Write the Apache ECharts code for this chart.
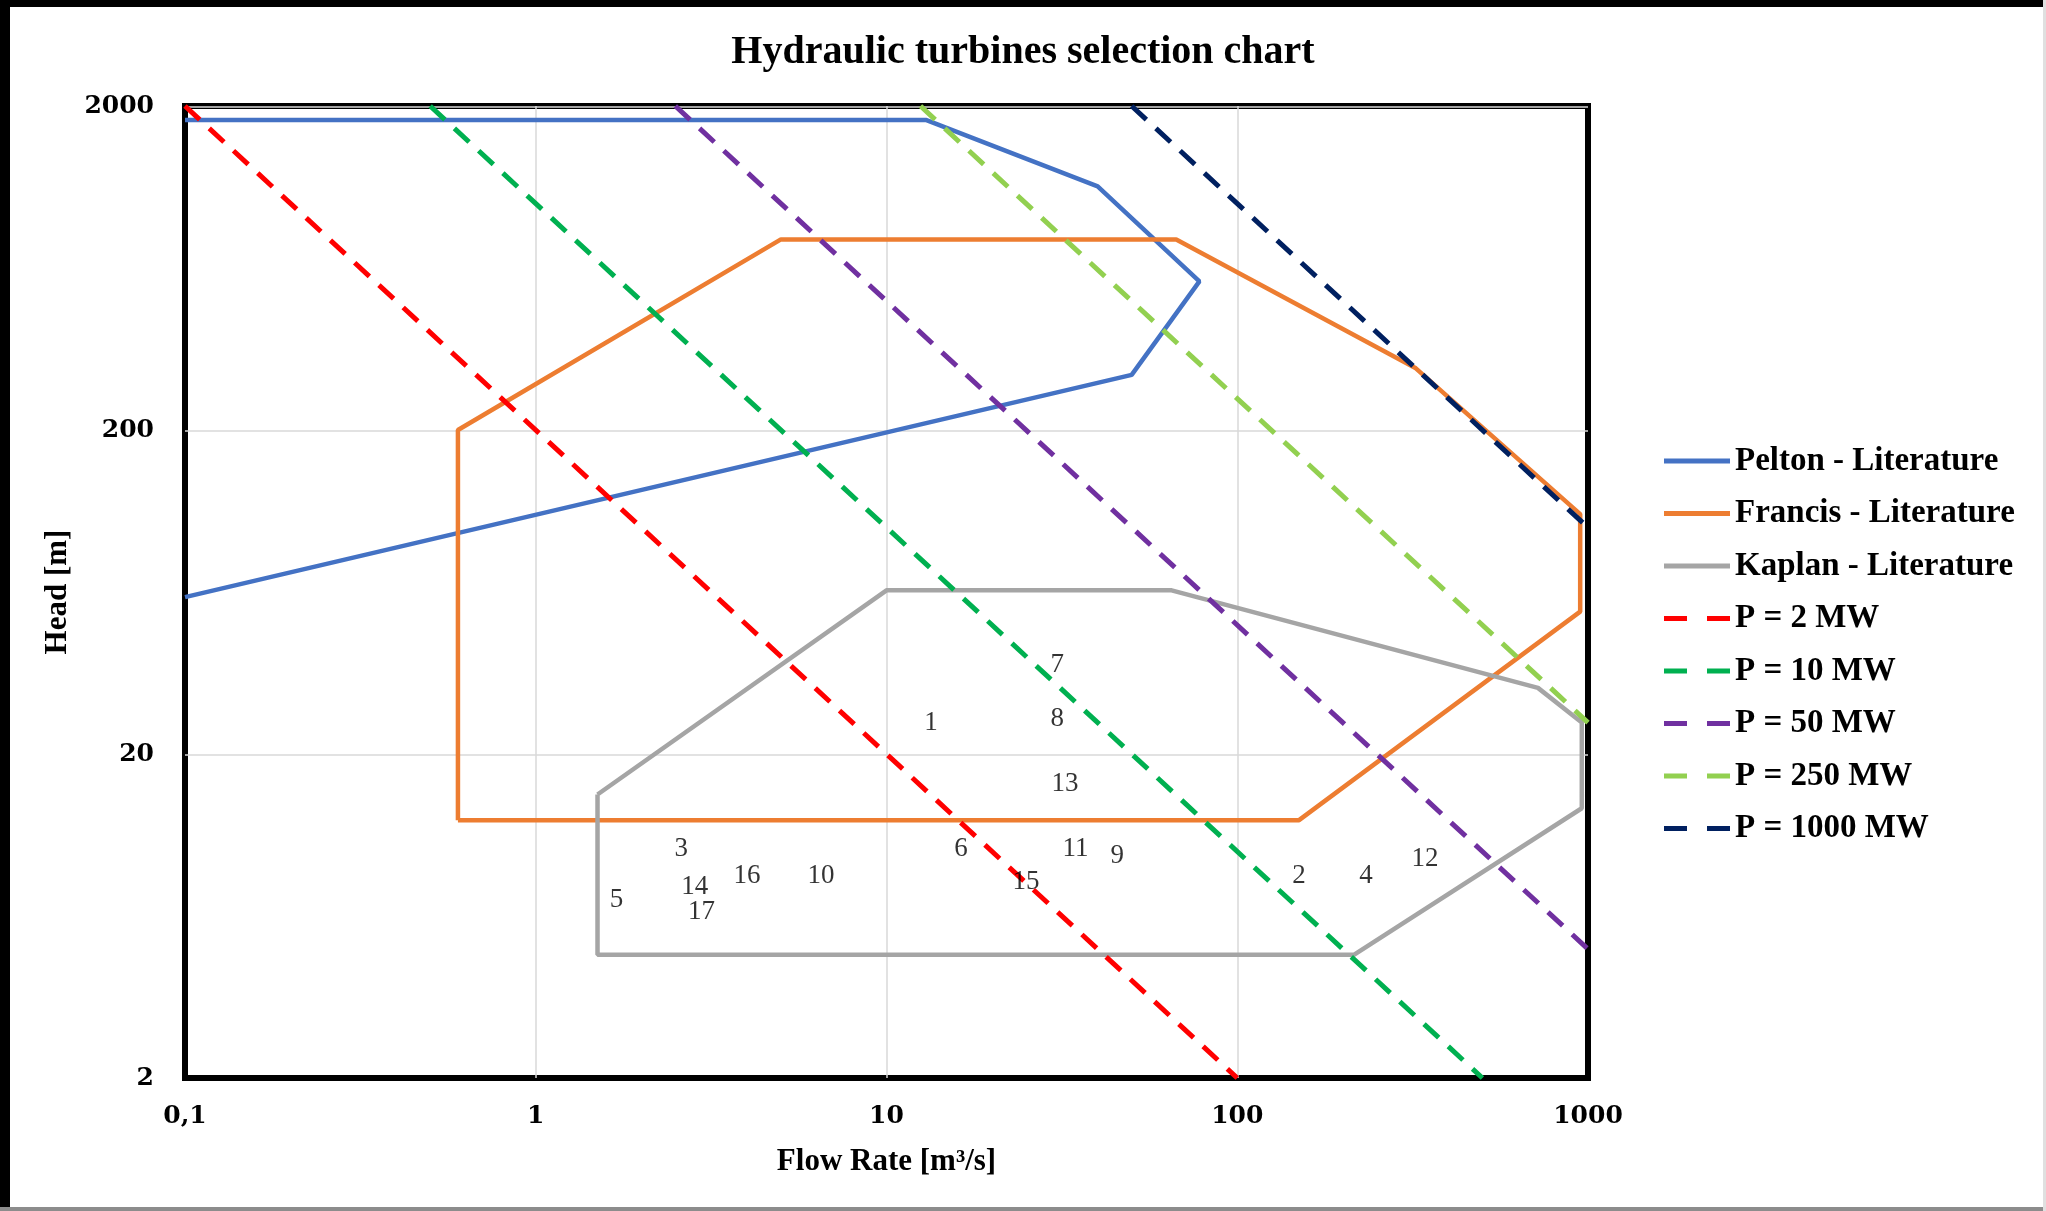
<!DOCTYPE html>
<html>
<head>
<meta charset="utf-8">
<title>Hydraulic turbines selection chart</title>
<script src="https://cdn.jsdelivr.net/npm/echarts@6/dist/echarts.min.js"></script>
<style>
  html, body { margin: 0; padding: 0; background: #fff; }
  #main { width: 2046px; height: 1211px; }
</style>
</head>
<body>
<div id="main"></div>
<script>
// 各水轮机应用范围（流量 Q [m3/s]，水头 H [m]）
var peltonQ = [0.1, 50, 78, 40, 13, 0.1];
var peltonH = [61, 296, 575, 1130, 1810, 1810];

var francisQ = [0.6, 0.6, 5, 67, 323, 950, 950, 150, 0.6];
var francisH = [12.5, 200, 775, 775, 310, 110, 55, 12.5, 12.5];

var kaplanQ = [1.5, 10, 65, 720, 960, 960, 215, 1.5, 1.5];
var kaplanH = [15, 64, 64, 32, 25, 13.6, 4.8, 4.8, 15];

// 等功率线端点
var powerNames = ["P = 2 MW", "P = 10 MW", "P = 50 MW", "P = 250 MW", "P = 1000 MW"];
var powerQ = [[0.1, 100], [0.5, 500], [2.5, 1000], [12.5, 1000], [50, 1000]];
var powerH = [[2000, 2], [2000, 2], [2000, 5], [2000, 25], [2000, 100]];
var powerColors = ["#ff0000", "#00b050", "#7030a0", "#92d050", "#002060"];

// 电站编号位置
var siteIds = ["1", "2", "3", "4", "5", "6", "7", "8", "9", "10", "11", "12", "13", "14", "15", "16", "17"];
var siteQ = [13.4, 150, 2.6, 233, 1.7, 16.3, 30.7, 30.7, 45.5, 6.5, 34.6, 343, 32.3, 2.84, 25, 4.0, 2.97];
var siteH = [25, 8.4, 10.2, 8.4, 7.1, 10.2, 37.6, 25.7, 9.7, 8.4, 10.2, 9.5, 16.2, 7.8, 8.05, 8.4, 6.5];

// 纵轴刻度
var headTicks = [2, 20, 200, 2000];

(function () {
    var myChart = echarts.init(document.getElementById("main"));

    // y 轴用 log10 空间的数值轴
    function pairs(qs, hs) {
        return qs.map(function (q, i) {
            return [q, Math.log10(hs[i])];
        });
    }

    var serif = "'Liberation Serif', 'Times New Roman', serif";
    var solidNames = ["Pelton - Literature", "Francis - Literature", "Kaplan - Literature"];
    var solidColors = ["#4472c4", "#ed7d31", "#a5a5a5"];
    var solidQ = [peltonQ, francisQ, kaplanQ];
    var solidH = [peltonH, francisH, kaplanH];

    var series = [];
    solidNames.forEach(function (name, i) {
        series.push({
            name: name,
            type: "line",
            data: pairs(solidQ[i], solidH[i]),
            symbol: "none",
            lineStyle: { color: solidColors[i], width: 4.5 },
            itemStyle: { color: solidColors[i] },
            z: 3
        });
    });

    powerNames.forEach(function (name, i) {
        series.push({
            name: name,
            type: "line",
            data: pairs(powerQ[i], powerH[i]),
            symbol: "none",
            lineStyle: { color: powerColors[i], width: 5, type: [20, 13] },
            itemStyle: { color: powerColors[i] },
            z: 4
        });
    });

    // 编号文字
    series.push({
        name: "sites",
        type: "scatter",
        data: siteQ.map(function (q, i) {
            return [q, Math.log10(siteH[i]), siteIds[i]];
        }),
        symbolSize: 1,
        itemStyle: { color: "rgba(0,0,0,0)" },
        label: {
            show: true,
            position: "inside",
            formatter: function (p) {
                return p.value[2];
            },
            color: "#000",
            fontFamily: serif,
            fontSize: 27
        },
        silent: true,
        z: 5
    });

    // 图例图标：实线 / 虚线
    var dashIcon = "path://M0,0H23V10H0Z M43,0H66V10H43Z";
    var legendData = solidNames.map(function (n) {
        return { name: n, icon: "rect" };
    }).concat(powerNames.map(function (n) {
        return { name: n, icon: dashIcon };
    }));

    var option = {
        backgroundColor: "#fff",
        animation: false,
        title: {
            text: "Hydraulic turbines selection chart",
            left: "center",
            top: 28,
            textStyle: {
                fontFamily: serif,
                fontWeight: "bold",
                fontSize: 40,
                color: "#000"
            }
        },
        legend: {
            data: legendData,
            orient: "vertical",
            left: 1664,
            top: 444,
            padding: 0,
            itemWidth: 66,
            itemHeight: 5,
            itemGap: 18.5,
            symbolKeepAspect: false,
            textStyle: {
                fontFamily: serif,
                fontWeight: "bold",
                fontSize: 33,
                lineHeight: 34,
                color: "#000"
            }
        },
        grid: {
            left: 185,
            right: 458,
            top: 106,
            bottom: 133,
            show: true,
            borderColor: "#000",
            borderWidth: 6
        },
        xAxis: {
            type: "log",
            logBase: 10,
            min: 0.1,
            max: 1000,
            name: "Flow Rate [m³/s]",
            nameLocation: "middle",
            nameGap: 68,
            nameTextStyle: {
                fontFamily: serif,
                fontWeight: "bold",
                fontSize: 31,
                color: "#000"
            },
            axisLine: { show: false },
            axisTick: { show: false },
            axisLabel: {
                margin: 26,
                fontFamily: "'DejaVu Serif', serif",
                fontWeight: "bold",
                fontSize: 25,
                color: "#000",
                formatter: function (v) {
                    return String(v).replace(".", ",");
                }
            },
            splitLine: {
                show: true,
                showMinLine: false,
                showMaxLine: false,
                lineStyle: { color: "#d9d9d9", width: 1.5 }
            }
        },
        yAxis: {
            type: "value",
            min: Math.log10(headTicks[0]),
            max: Math.log10(headTicks[headTicks.length - 1]),
            interval: 1,
            name: "Head [m]",
            nameLocation: "middle",
            nameGap: 110,
            nameTextStyle: {
                fontFamily: serif,
                fontWeight: "bold",
                fontSize: 31,
                color: "#000"
            },
            axisLine: { show: false },
            axisTick: { show: false },
            axisLabel: {
                margin: 31,
                fontFamily: "'DejaVu Serif', serif",
                fontWeight: "bold",
                fontSize: 25,
                color: "#000",
                formatter: function (v) {
                    return String(Number(Math.pow(10, v).toPrecision(1)));
                }
            },
            splitLine: {
                show: true,
                showMinLine: false,
                showMaxLine: false,
                lineStyle: { color: "#d9d9d9", width: 1.5 }
            }
        },
        // 外框
        graphic: [
            { type: "rect", shape: { x: 0, y: 0, width: 2046, height: 7 }, style: { fill: "#000" } },
            { type: "rect", shape: { x: 0, y: 0, width: 10, height: 1211 }, style: { fill: "#000" } },
            { type: "rect", shape: { x: 0, y: 1207, width: 2046, height: 4 }, style: { fill: "#8c8c8c" } },
            { type: "rect", shape: { x: 2043, y: 0, width: 3, height: 1211 }, style: { fill: "#e0e0e0" } }
        ],
        series: series
    };

    myChart.setOption(option);
    window.addEventListener("resize", function () {
        myChart.resize();
    });
})();
</script>
</body>
</html>
